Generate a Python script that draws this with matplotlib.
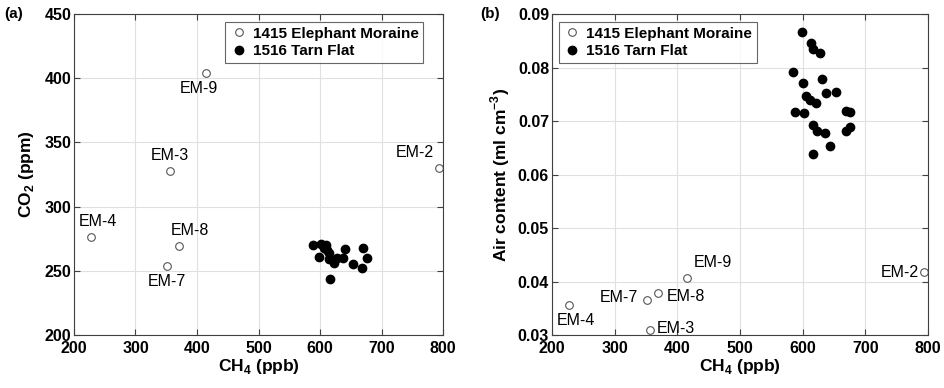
import numpy as np
import matplotlib
matplotlib.use('Agg')
import matplotlib.pyplot as plt

plt.rcParams['font.family'] = ['Liberation Sans', 'DejaVu Sans']
plt.rcParams['mathtext.fontset'] = 'custom'
plt.rcParams['mathtext.rm'] = 'Liberation Sans'
plt.rcParams['mathtext.bf'] = 'Liberation Sans:bold'

# Elephant Moraine samples (same order in both panels)
em_names = ['EM-2', 'EM-3', 'EM-4', 'EM-7', 'EM-8', 'EM-9']
em_ch4 = [794, 356, 227, 351, 370, 415]
em_co2 = [330, 327.5, 276, 254, 269, 404]
em_air = [0.0417, 0.0310, 0.0356, 0.0365, 0.0378, 0.0406]

# Tarn Flat, panel (a)
tf_ch4_a = [589, 601, 609, 612, 598, 615, 627, 640, 637, 653, 670, 677, 668, 616, 607, 623, 614]
tf_co2_a = [270, 271, 270, 266, 261, 259, 260, 267, 260, 255, 268, 260, 252, 244, 268, 256, 264]

# Tarn Flat, panel (b)
tf_ch4_b = [599, 614, 617, 627, 585, 600, 631, 638, 605, 612, 621, 588, 602, 616,
            623, 636, 643, 617, 653, 670, 675, 670, 675]
tf_air_b = [0.0866, 0.0846, 0.0834, 0.0828, 0.0792, 0.0772, 0.0778, 0.0753, 0.0747,
            0.0739, 0.0733, 0.0717, 0.0716, 0.0692, 0.0681, 0.0678, 0.0653, 0.0639,
            0.0754, 0.0719, 0.0717, 0.0681, 0.0688]

# label offsets in points (dx, dy, ha, va)
offs_a = {'EM-2': (-4, 6, 'right', 'bottom'), 'EM-3': (0, 6, 'center', 'bottom'),
          'EM-4': (5, 6, 'center', 'bottom'), 'EM-7': (0, -6, 'center', 'top'),
          'EM-8': (8, 6, 'center', 'bottom'), 'EM-9': (-5, -6, 'center', 'top')}
offs_b = {'EM-2': (-4, 0, 'right', 'center'), 'EM-3': (5, 1, 'left', 'center'),
          'EM-4': (5, -6, 'center', 'top'), 'EM-7': (-6, 2, 'right', 'center'),
          'EM-8': (6, -2, 'left', 'center'), 'EM-9': (5, 6, 'left', 'bottom')}

fig = plt.figure(figsize=(9.45, 3.88), dpi=100)
ax1 = fig.add_axes([0.0783, 0.1366, 0.3905, 0.827])
ax2 = fig.add_axes([0.584, 0.1366, 0.398, 0.827])


def style(ax):
    ax.grid(True, color='#e0e0e0', linewidth=0.8)
    ax.set_axisbelow(True)
    ax.tick_params(direction='in', top=True, right=True, length=4, width=0.8,
                   color='#404040', labelsize=11.5, pad=2)
    ax.tick_params(axis='x', pad=4)
    for lab in ax.get_xticklabels() + ax.get_yticklabels():
        lab.set_fontweight('bold')
    for s in ax.spines.values():
        s.set_color('#404040')
        s.set_linewidth(0.8)


# panel (a)
ax1.plot(em_ch4, em_co2, 'o', mfc='white', mec='#555555', ms=5.5, mew=0.8,
         label='1415 Elephant Moraine')
ax1.plot(tf_ch4_a, tf_co2_a, 'o', color='black', ms=6, label='1516 Tarn Flat')
for n, x, y in zip(em_names, em_ch4, em_co2):
    dx, dy, ha, va = offs_a[n]
    ax1.annotate(n, (x, y), xytext=(dx, dy), textcoords='offset points',
                 ha=ha, va=va, fontsize=11.5)
ax1.set_xlim(200, 800)
ax1.set_ylim(200, 450)
ax1.set_xticks(np.arange(200, 801, 100))
ax1.set_yticks(np.arange(200, 451, 50))
style(ax1)
ax1.set_xlabel(r'CH$_{\mathbf{4}}$ (ppb)', fontsize=12.5, fontweight='bold', labelpad=1)
ax1.set_ylabel(r'CO$_{\mathbf{2}}$ (ppm)', fontsize=12.5, fontweight='bold', labelpad=6)
leg1 = ax1.legend(loc='upper right', bbox_to_anchor=(0.955, 0.985),
                  prop={'weight': 'bold', 'size': 11}, fancybox=False,
                  edgecolor='#404040', handletextpad=0.3, borderpad=0.3,
                  labelspacing=0.25, handlelength=1.2, borderaxespad=0.2)
leg1.get_frame().set_linewidth(0.8)

# panel (b)
ax2.plot(em_ch4, em_air, 'o', mfc='white', mec='#555555', ms=5.5, mew=0.8,
         label='1415 Elephant Moraine')
ax2.plot(tf_ch4_b, tf_air_b, 'o', color='black', ms=6, label='1516 Tarn Flat')
for n, x, y in zip(em_names, em_ch4, em_air):
    dx, dy, ha, va = offs_b[n]
    ax2.annotate(n, (x, y), xytext=(dx, dy), textcoords='offset points',
                 ha=ha, va=va, fontsize=11.5)
ax2.set_xlim(200, 800)
ax2.set_ylim(0.03, 0.09)
ax2.set_xticks(np.arange(200, 801, 100))
ax2.set_yticks(np.arange(0.03, 0.0901, 0.01))
ax2.set_yticklabels(['0.03', '0.04', '0.05', '0.06', '0.07', '0.08', '0.09'])
style(ax2)
ax2.set_xlabel(r'CH$_{\mathbf{4}}$ (ppb)', fontsize=12.5, fontweight='bold', labelpad=1)
ax2.set_ylabel(r'Air content (ml cm$^{\mathbf{-3}}$)', fontsize=12.5, fontweight='bold',
               labelpad=4)
leg2 = ax2.legend(loc='upper left', bbox_to_anchor=(0.01, 0.985),
                  prop={'weight': 'bold', 'size': 11}, fancybox=False,
                  edgecolor='#404040', handletextpad=0.3, borderpad=0.3,
                  labelspacing=0.25, handlelength=1.2, borderaxespad=0.2)
leg2.get_frame().set_linewidth(0.8)

fig.text(0.005, 0.963, '(a)', fontsize=11, fontweight='bold', va='center')
fig.text(0.508, 0.963, '(b)', fontsize=11, fontweight='bold', va='center')

fig.savefig('out.png', dpi=100)
